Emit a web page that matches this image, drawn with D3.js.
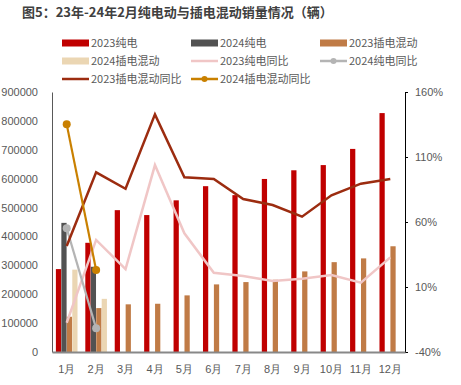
<!DOCTYPE html>
<html>
<head>
<meta charset="utf-8">
<script src="https://cdn.jsdelivr.net/npm/d3@7"></script>
<style>
  body { margin: 0; background: #fff; }
  svg { font-family: "Noto Sans CJK SC", "Noto Sans", sans-serif; }
</style>
</head>
<body>
<svg id="chart"></svg>
<script>
// Data
const months = ["1月", "2月", "3月", "4月", "5月", "6月", "7月", "8月", "9月", "10月", "11月", "12月"];
const bev2023 = [287000, 378000, 491000, 474000, 525000, 574000, 543000, 599000, 629000, 647000, 703000, 827000];
const bev2024 = [447000, 295000];
const phev2023 = [122000, 152000, 165000, 167000, 196000, 234000, 242000, 250000, 279000, 311000, 324000, 366000];
const phev2024 = [285000, 184000];
const bevYoy2023 = [-17.5, 46.2, 23.8, 103.8, 51.3, 21.0, 18.5, 14.6, 16.4, 19.2, 13.3, 32.8];
const bevYoy2024 = [55.1, -21.8];
const phevYoy2023 = [41.5, 98.2, 85.6, 142.8, 94.4, 93.1, 77.7, 73.1, 64.1, 80.5, 89.5, 93.1];
const phevYoy2024 = [135.1, 23.1];
const leftTicks = [0, 100000, 200000, 300000, 400000, 500000, 600000, 700000, 800000, 900000];
const rightTicks = [-40, 10, 60, 110, 160];

const width = 461;
const height = 385;
const marginTop = 92;
const marginRight = 56;
const marginBottom = 33;
const marginLeft = 52;

const svg = d3.select("#chart")
    .attr("width", width)
    .attr("height", height)
    .attr("viewBox", [0, 0, width, height]);

// Title
svg.append("text")
    .attr("x", 22)
    .attr("y", 17)
    .attr("font-size", 13)
    .attr("font-weight", "bold")
    .attr("fill", "#404040")
    .text("图5：23年-24年2月纯电动与插电混动销量情况（辆）");

// Scales
const x = d3.scaleBand()
    .domain(months)
    .range([marginLeft, width - marginRight])
    .paddingInner(0.25)
    .paddingOuter(0.125);

const barKeys = ["2023纯电", "2024纯电", "2023插电混动", "2024插电混动"];
const xInner = d3.scaleBand()
    .domain(barKeys)
    .range([0, x.bandwidth()])
    .padding(0.04);

const y = d3.scaleLinear()
    .domain([0, 900000])
    .range([height - marginBottom, marginTop]);

const yRight = d3.scaleLinear()
    .domain([-40, 160])
    .range([height - marginBottom, marginTop]);

const barColor = {
    "2023纯电": "#C00000",
    "2024纯电": "#525252",
    "2023插电混动": "#C07B46",
    "2024插电混动": "#EBD6B3"
};
const barSeries = [
    { key: "2023纯电", values: bev2023 },
    { key: "2024纯电", values: bev2024 },
    { key: "2023插电混动", values: phev2023 },
    { key: "2024插电混动", values: phev2024 }
];

// Bars
svg.append("g")
  .selectAll("g")
  .data(barSeries)
  .join("g")
    .attr("fill", d => barColor[d.key])
  .selectAll("rect")
  .data(d => d.values.map((v, i) => ({ key: d.key, month: months[i], value: v })))
  .join("rect")
    .attr("x", d => x(d.month) + xInner(d.key))
    .attr("y", d => y(d.value))
    .attr("width", xInner.bandwidth())
    .attr("height", d => y(0) - y(d.value));

// Left axis
svg.append("g")
    .attr("transform", `translate(${marginLeft},0)`)
    .call(d3.axisLeft(y).tickValues(leftTicks).tickSize(0).tickPadding(14).tickFormat(d3.format("d")))
    .call(g => g.select(".domain").attr("stroke", "#595959"))
    .call(g => g.selectAll("text").attr("fill", "#595959").attr("font-size", 11));

// Right axis
svg.append("g")
    .attr("transform", `translate(${width - marginRight},0)`)
    .call(d3.axisRight(yRight).tickValues(rightTicks).tickSize(3).tickPadding(7).tickFormat(d => d + "%"))
    .call(g => g.select(".domain").attr("stroke", "#000"))
    .call(g => g.selectAll(".tick line").attr("stroke", "#000"))
    .call(g => g.selectAll("text").attr("fill", "#595959").attr("font-size", 11));

// Bottom axis
svg.append("g")
    .attr("transform", `translate(0,${height - marginBottom})`)
    .call(d3.axisBottom(x).tickSize(0).tickPadding(13))
    .call(g => g.select(".domain").attr("stroke", "#888").attr("stroke-width", 2))
    .call(g => g.selectAll("text").attr("fill", "#595959").attr("font-size", 11));

// Lines
const lineSeries = [
    { key: "2023纯电同比", values: bevYoy2023, color: "#F0C6C6", w: 2.5, dot: false },
    { key: "2024纯电同比", values: bevYoy2024, color: "#B4B4B4", w: 2.2, dot: true },
    { key: "2023插电混动同比", values: phevYoy2023, color: "#9C2C10", w: 2.5, dot: false },
    { key: "2024插电混动同比", values: phevYoy2024, color: "#C98000", w: 2.2, dot: true }
];

const line = d3.line()
    .x((d, i) => x(months[i]) + x.bandwidth() / 2)
    .y(d => yRight(d));

lineSeries.forEach(s => {
    svg.append("path")
        .datum(s.values)
        .attr("fill", "none")
        .attr("stroke", s.color)
        .attr("stroke-width", s.w)
        .attr("d", line);
    if (s.dot) {
        svg.append("g")
          .selectAll("circle")
          .data(s.values)
          .join("circle")
            .attr("cx", (d, i) => x(months[i]) + x.bandwidth() / 2)
            .attr("cy", d => yRight(d))
            .attr("r", 4)
            .attr("fill", s.color);
    }
});

// Legend
const legendItems = [
    { label: "2023纯电", color: barColor["2023纯电"], type: "rect" },
    { label: "2024纯电", color: barColor["2024纯电"], type: "rect" },
    { label: "2023插电混动", color: barColor["2023插电混动"], type: "rect" },
    { label: "2024插电混动", color: barColor["2024插电混动"], type: "rect" },
    { label: "2023纯电同比", color: "#F0C6C6", type: "line" },
    { label: "2024纯电同比", color: "#B4B4B4", type: "dot" },
    { label: "2023插电混动同比", color: "#9C2C10", type: "line" },
    { label: "2024插电混动同比", color: "#C98000", type: "dot" }
];
const legendX = [62, 191, 320];
const legendY = [43, 61, 79];

const legend = svg.append("g")
  .selectAll("g")
  .data(legendItems)
  .join("g")
    .attr("transform", (d, i) => `translate(${legendX[i % 3]},${legendY[Math.floor(i / 3)]})`);

legend.filter(d => d.type === "rect").append("rect")
    .attr("x", 0).attr("y", -3.5).attr("width", 27).attr("height", 7)
    .attr("fill", d => d.color);
legend.filter(d => d.type !== "rect").append("line")
    .attr("x1", 0).attr("x2", 27).attr("y1", 0).attr("y2", 0)
    .attr("stroke", d => d.color).attr("stroke-width", 2.5);
legend.filter(d => d.type === "dot").append("circle")
    .attr("cx", 13.5).attr("cy", 0).attr("r", 3)
    .attr("fill", d => d.color);
legend.append("text")
    .attr("x", 29).attr("y", 4)
    .attr("font-size", 11)
    .attr("fill", "#595959")
    .text(d => d.label);
</script>
</body>
</html>
